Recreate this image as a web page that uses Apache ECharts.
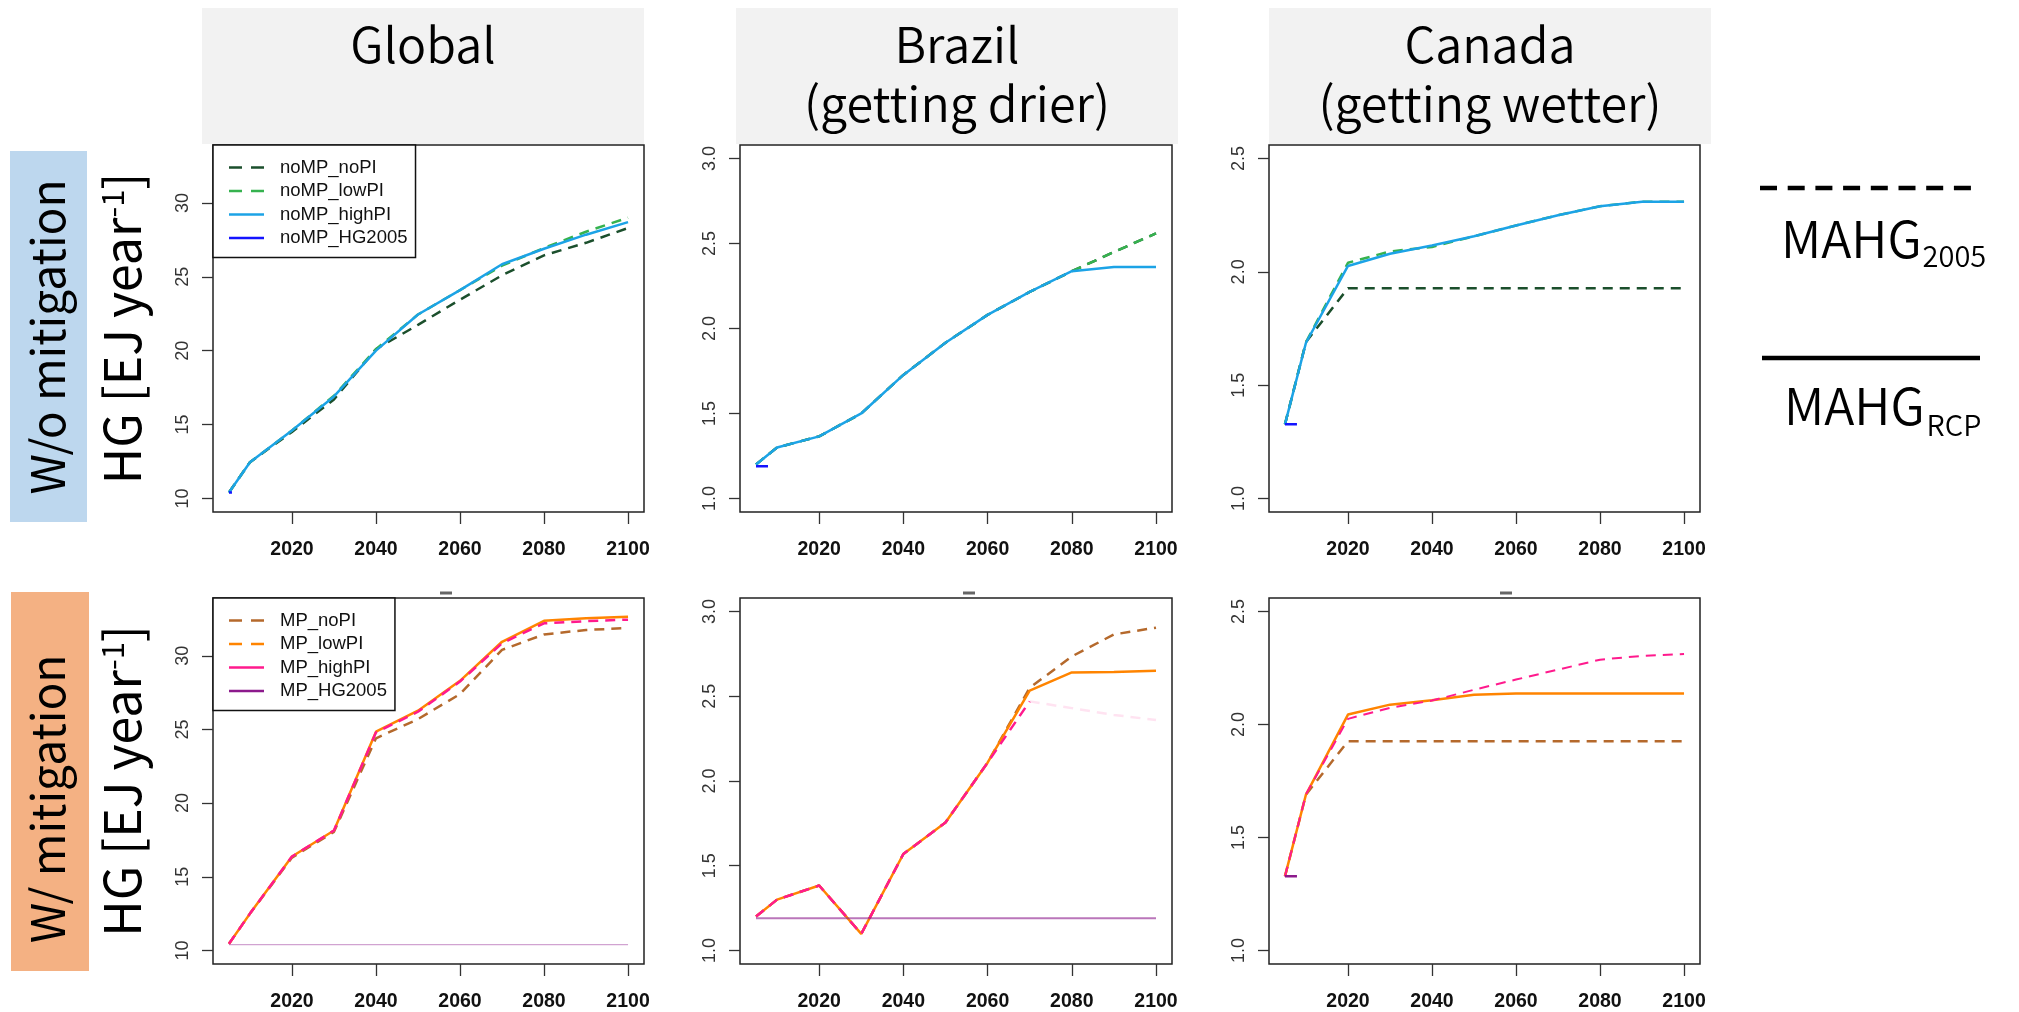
<!DOCTYPE html>
<html>
<head>
<meta charset="utf-8">
<title>HG with and without mitigation</title>
<script src="https://cdn.jsdelivr.net/npm/echarts@6.0.0/dist/echarts.min.js"></script>
<style>
  html, body { margin: 0; padding: 0; background: #fff; }
  #chart { width: 2019px; height: 1012px; }
</style>
</head>
<body>
<div id="chart"></div>
<script>
const years = [2005, 2010, 2020, 2030, 2040, 2050, 2060, 2070, 2080, 2090, 2100];

// w/o mitigation
const glbNoMP_noPI   = [10.4, 12.45, 14.5, 16.7, 20.1, 21.75, 23.45, 25.1, 26.45, 27.3, 28.3];
const glbNoMP_lowPI  = [10.4, 12.45, 14.6, 16.95, 20.1, 22.45, 24.1, 25.75, 26.95, 28.05, 29.0];
const glbNoMP_highPI = [10.4, 12.45, 14.6, 16.9, 20.0, 22.45, 24.1, 25.85, 26.9, 27.85, 28.7];
const glbNoMP_HG2005 = [10.4, 10.4, 10.4, 10.4, 10.4, 10.4, 10.4, 10.4, 10.4, 10.4, 10.4];

const brzNoMP_noPI   = [1.20, 1.30, 1.365, 1.50, 1.727, 1.916, 2.08, 2.215, 2.337, 2.45, 2.56];
const brzNoMP_lowPI  = [1.20, 1.30, 1.365, 1.50, 1.727, 1.916, 2.08, 2.215, 2.337, 2.45, 2.56];
const brzNoMP_highPI = [1.20, 1.30, 1.365, 1.50, 1.727, 1.916, 2.08, 2.215, 2.337, 2.362, 2.362];
const brzNoMP_HG2005 = [1.19, 1.19, 1.19, 1.19, 1.19, 1.19, 1.19, 1.19, 1.19, 1.19, 1.19];

const canNoMP_noPI   = [1.327, 1.69, 1.928, 1.928, 1.928, 1.928, 1.928, 1.928, 1.928, 1.928, 1.928];
const canNoMP_lowPI  = [1.327, 1.69, 2.04, 2.09, 2.11, 2.157, 2.205, 2.25, 2.29, 2.31, 2.31];
const canNoMP_highPI = [1.327, 1.687, 2.026, 2.08, 2.116, 2.157, 2.205, 2.25, 2.29, 2.31, 2.31];
const canNoMP_HG2005 = [1.327, 1.327, 1.327, 1.327, 1.327, 1.327, 1.327, 1.327, 1.327, 1.327, 1.327];

// w/ mitigation
const glbMP_noPI   = [10.45, 12.5, 16.3, 18.05, 24.4, 25.7, 27.4, 30.4, 31.45, 31.75, 31.88];
const glbMP_lowPI  = [10.45, 12.5, 16.38, 18.14, 24.85, 26.27, 28.3, 30.95, 32.37, 32.55, 32.64];
const glbMP_highPI = [10.45, 12.5, 16.38, 18.14, 24.8, 26.2, 28.25, 30.85, 32.2, 32.35, 32.45];
const glbMP_HG2005 = [10.4, 10.4, 10.4, 10.4, 10.4, 10.4, 10.4, 10.4, 10.4, 10.4, 10.4];

const brzMP_noPI   = [1.20, 1.30, 1.383, 1.098, 1.569, 1.755, 2.108, 2.55, 2.735, 2.865, 2.905];
const brzMP_lowPI  = [1.20, 1.30, 1.383, 1.098, 1.569, 1.755, 2.108, 2.533, 2.641, 2.643, 2.651];
const brzMP_highPI = [1.20, 1.30, 1.383, 1.098, 1.569, 1.755, 2.108, 2.47, 2.43, 2.39, 2.36];
const brzMP_HG2005 = [1.19, 1.19, 1.19, 1.19, 1.19, 1.19, 1.19, 1.19, 1.19, 1.19, 1.19];

const canMP_noPI   = [1.328, 1.69, 1.926, 1.926, 1.926, 1.926, 1.926, 1.926, 1.926, 1.926, 1.926];
const canMP_lowPI  = [1.328, 1.69, 2.044, 2.088, 2.107, 2.132, 2.137, 2.137, 2.137, 2.137, 2.137];
const canMP_highPI = [1.328, 1.691, 2.025, 2.074, 2.106, 2.154, 2.199, 2.243, 2.287, 2.304, 2.312];
const canMP_HG2005 = [1.328, 1.328, 1.328, 1.328, 1.328, 1.328, 1.328, 1.328, 1.328, 1.328, 1.328];

const headers = ['Global', 'Brazil\n(getting drier)', 'Canada\n(getting wetter)'];
const rowLabels = ['W/o mitigation', 'W/ mitigation'];
const xLim = [2005, 2100];
const xTicks = [2020, 2040, 2060, 2080, 2100];
const yLims = [[10, 33], [1, 3], [1, 2.5]];
const yTicks = [[10, 15, 20, 25, 30], [1.0, 1.5, 2.0, 2.5, 3.0], [1.0, 1.5, 2.0, 2.5]];

const FONT_JP = '"Noto Sans CJK JP", "Noto Sans", sans-serif';
const FONT_AX = '"Liberation Sans", Arial, sans-serif';

const colLeft = [213, 740, 1269];
const colWidth = [431, 432, 431];
const rowTop = [145, 598];
const rowHeight = 367;

const DASH = [10, 7];
const ICON_DASH = 'path://M0,0h13v2.5h-13z M22,0h13v2.5h-13z';
const ICON_SOLID = 'path://M0,0h35v2.5h-35z';

// R style axis range: 4% padding each side
function ext(lim) {
  const d = (lim[1] - lim[0]) * 0.04;
  return [lim[0] - d, lim[1] + d];
}

function line(name, gi, vals, color, type, opts) {
  opts = opts || {};
  const from = opts.from || 0, to = opts.to || years.length;
  const ys = vals.slice(from, to);
  return {
    type: 'line', name: name,
    xAxisIndex: gi, yAxisIndex: gi,
    data: years.slice(from, to).map((y, i) => [y, ys[i]]),
    symbol: 'none', silent: true,
    lineStyle: { color: color, width: opts.width || 2.5, type: type, opacity: opts.opacity == null ? 1 : opts.opacity },
    itemStyle: { color: color },
    z: 3
  };
}

const col = {
  noPI: '#1b4f2c', lowPI: '#36b24f', highPI: '#1ca3e6', hg: '#1414ff',
  mpNoPI: '#b5692c', mpLowPI: '#ff8400', mpHighPI: '#ff1a8d', mpHg: '#8c1a8c'
};

const grids = [], xAxes = [], yAxes = [];
for (let r = 0; r < 2; r++) {
  for (let c = 0; c < 3; c++) {
    const gi = r * 3 + c;
    const yl = ext(yLims[c]);
    grids.push({
      left: colLeft[c], top: rowTop[r], width: colWidth[c], height: rowHeight,
      show: true, borderColor: '#222', borderWidth: 1.5, backgroundColor: 'transparent'
    });
    xAxes.push({
      type: 'value', gridIndex: gi, min: ext(xLim)[0], max: ext(xLim)[1],
      splitLine: { show: false }, axisLine: { show: false },
      axisTick: { show: true, length: 12, customValues: xTicks, lineStyle: { color: '#333', width: 1.3 } },
      axisLabel: {
        customValues: xTicks, margin: 28, color: '#111',
        fontFamily: FONT_AX, fontWeight: 'bold', fontSize: 19.5,
        formatter: v => String(Math.round(v))
      }
    });
    yAxes.push({
      type: 'value', gridIndex: gi, min: yl[0], max: yl[1],
      splitLine: { show: false }, axisLine: { show: false },
      axisTick: { show: true, length: 11, customValues: yTicks[c], lineStyle: { color: '#333', width: 1.3 } },
      axisLabel: {
        customValues: yTicks[c], rotate: 90, margin: 21, color: '#333',
        fontFamily: FONT_AX, fontSize: 18,
        formatter: v => c === 0 ? String(Math.round(v)) : v.toFixed(1)
      },
      name: c === 0 ? 'HG [EJ year{sup|-1}]' : '',
      nameLocation: 'middle', nameRotate: 90, nameGap: 66,
      nameTextStyle: {
        fontFamily: FONT_JP, fontSize: 50, color: '#000',
        rich: { sup: { fontFamily: FONT_JP, fontSize: 31, color: '#000', verticalAlign: 'top' } }
      }
    });
  }
}

const HG_DASH = [12, 4000];

const series = [
  line('noMP_noPI', 0, glbNoMP_noPI, col.noPI, DASH),
  line('noMP_lowPI', 0, glbNoMP_lowPI, col.lowPI, DASH),
  line('noMP_highPI', 0, glbNoMP_highPI, col.highPI, 'solid'),
  line('noMP_HG2005', 0, glbNoMP_HG2005, col.hg, [3, 4000]),

  line('noMP_noPI', 1, brzNoMP_noPI, col.noPI, DASH),
  line('noMP_lowPI', 1, brzNoMP_lowPI, col.lowPI, DASH),
  line('noMP_highPI', 1, brzNoMP_highPI, col.highPI, 'solid'),
  line('noMP_HG2005', 1, brzNoMP_HG2005, col.hg, HG_DASH),

  line('noMP_noPI', 2, canNoMP_noPI, col.noPI, DASH),
  line('noMP_lowPI', 2, canNoMP_lowPI, col.lowPI, DASH),
  line('noMP_highPI', 2, canNoMP_highPI, col.highPI, 'solid'),
  line('noMP_HG2005', 2, canNoMP_HG2005, col.hg, HG_DASH),

  line('MP_noPI', 3, glbMP_noPI, col.mpNoPI, DASH),
  line('MP_lowPI', 3, glbMP_lowPI, col.mpLowPI, 'solid'),
  line('MP_highPI', 3, glbMP_highPI, col.mpHighPI, DASH),
  line('MP_HG2005', 3, glbMP_HG2005, col.mpHg, 'solid', { width: 1.2, opacity: 0.4 }),

  line('MP_noPI', 4, brzMP_noPI, col.mpNoPI, DASH),
  line('MP_lowPI', 4, brzMP_lowPI, col.mpLowPI, 'solid'),
  line('MP_highPI', 4, brzMP_highPI, col.mpHighPI, DASH, { to: 8 }),
  line('MP_highPI', 4, brzMP_highPI, col.mpHighPI, DASH, { from: 7, opacity: 0.12 }),
  line('MP_HG2005', 4, brzMP_HG2005, col.mpHg, 'solid', { width: 2, opacity: 0.6 }),

  line('MP_noPI', 5, canMP_noPI, col.mpNoPI, DASH),
  line('MP_lowPI', 5, canMP_lowPI, col.mpLowPI, 'solid'),
  line('MP_highPI', 5, canMP_highPI, col.mpHighPI, DASH, { width: 2 }),
  line('MP_HG2005', 5, canMP_HG2005, col.mpHg, HG_DASH)
];

function legend(top, names) {
  return {
    left: 213, top: top, orient: 'vertical', selectedMode: false,
    padding: [13, 8, 10, 16], itemGap: 4.5, itemWidth: 35, itemHeight: 12,
    backgroundColor: '#fff', borderColor: '#111', borderWidth: 1.5, borderRadius: 0,
    textStyle: { fontFamily: FONT_AX, fontSize: 18.5, color: '#111', padding: [0, 0, 0, 11], lineHeight: 18 },
    data: names.map((n, i) => ({ name: n, icon: i < 2 ? ICON_DASH : ICON_SOLID, itemStyle: { opacity: 1 } }))
  };
}

// width of a text, used to put subscripts right after the main word
function textWidth(txt, size, weight) {
  const ctx = document.createElement('canvas').getContext('2d');
  ctx.font = weight + ' ' + size + 'px ' + FONT_JP;
  return ctx.measureText(txt).width;
}

const graphic = [];
// facet headers
headers.forEach((h, c) => {
  const x0 = [202, 736, 1269][c];
  graphic.push({ type: 'rect', shape: { x: x0, y: 8, width: 442, height: 136 }, style: { fill: '#f2f2f2' }, z: 0 });
  graphic.push({
    type: 'text', x: x0 + 221, y: c === 0 ? 45 : 74.5, z: 1,
    style: { text: h, fontFamily: FONT_JP, fontSize: 48.5, fontWeight: 350, lineHeight: 59, fill: '#000', align: 'center', verticalAlign: 'middle' }
  });
});
// row labels
[['#bdd7ee', 10, 151, 77, 371, 337], ['#f4b183', 11, 592, 78, 379, 799]].forEach((b, r) => {
  graphic.push({ type: 'rect', shape: { x: b[1], y: b[2], width: b[3], height: b[4] }, style: { fill: b[0] }, z: 0 });
  graphic.push({
    type: 'text', x: 48, y: b[5], rotation: Math.PI / 2, z: 1,
    style: { text: rowLabels[r], fontFamily: FONT_JP, fontSize: 46, fontWeight: 'normal', fill: '#000', align: 'center', verticalAlign: 'middle' }
  });
});
// small marks above lower panels
[446, 969, 1506].forEach(x => {
  graphic.push({ type: 'line', shape: { x1: x - 6, y1: 593, x2: x + 6, y2: 593 }, style: { stroke: '#666', lineWidth: 3 } });
});
// MAHG key
const mahgW = textWidth('MAHG', 50, 350);
graphic.push({ type: 'line', shape: { x1: 1760, y1: 188, x2: 1972, y2: 188 }, style: { stroke: '#000', lineWidth: 4.5, lineDash: [17, 10.7] } });
graphic.push({ type: 'line', shape: { x1: 1762, y1: 358, x2: 1980, y2: 358 }, style: { stroke: '#000', lineWidth: 4.5 } });
graphic.push({ type: 'text', x: 1781, y: 239, style: { text: 'MAHG', fontFamily: FONT_JP, fontSize: 50, fontWeight: 350, fill: '#000', verticalAlign: 'middle' } });
graphic.push({ type: 'text', x: 1781 + mahgW + 1, y: 256, style: { text: '2005', fontFamily: FONT_JP, fontSize: 29, fontWeight: 350, fill: '#000', verticalAlign: 'middle' } });
graphic.push({ type: 'text', x: 1784, y: 406, style: { text: 'MAHG', fontFamily: FONT_JP, fontSize: 50, fontWeight: 350, fill: '#000', verticalAlign: 'middle' } });
graphic.push({ type: 'text', x: 1784 + mahgW + 2, y: 425, style: { text: 'RCP', fontFamily: FONT_JP, fontSize: 29, fontWeight: 350, fill: '#000', verticalAlign: 'middle' } });

const chart = echarts.init(document.getElementById('chart'));
chart.setOption({
  animation: false,
  backgroundColor: '#fff',
  grid: grids,
  xAxis: xAxes,
  yAxis: yAxes,
  legend: [
    legend(145, ['noMP_noPI', 'noMP_lowPI', 'noMP_highPI', 'noMP_HG2005']),
    legend(598, ['MP_noPI', 'MP_lowPI', 'MP_highPI', 'MP_HG2005'])
  ],
  graphic: graphic,
  series: series
});
</script>
</body>
</html>
